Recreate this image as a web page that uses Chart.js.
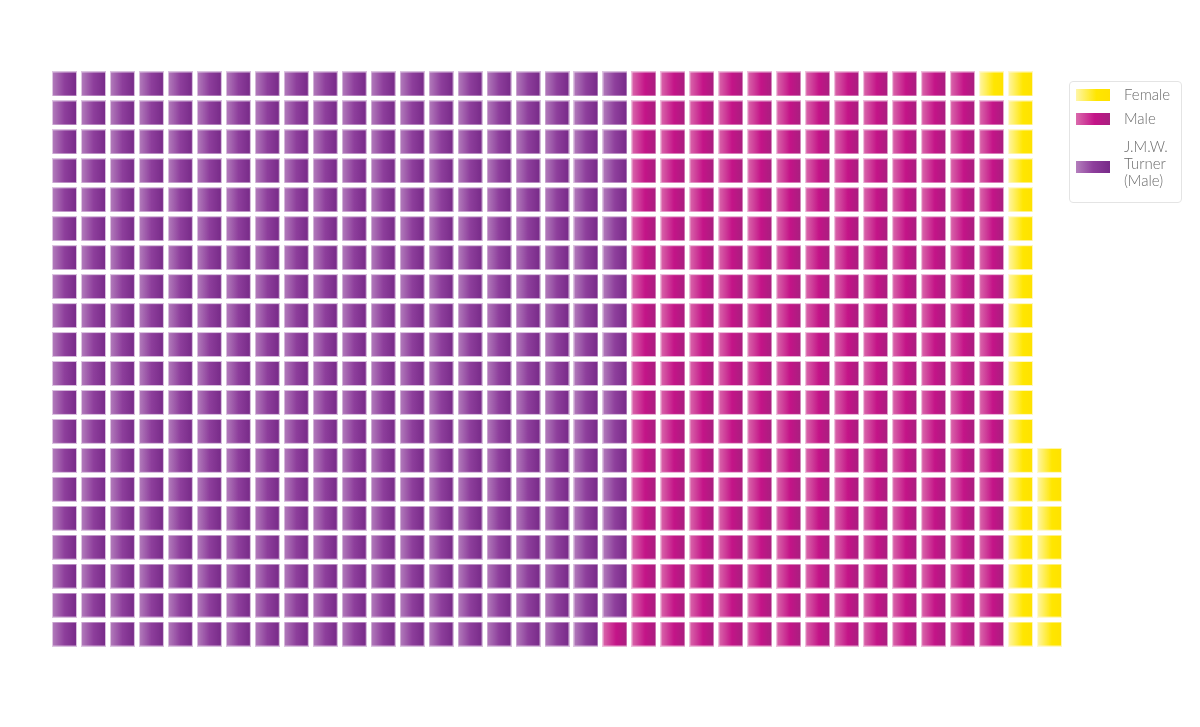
<!DOCTYPE html>
<html>
<head>
<meta charset="utf-8">
<script src="https://cdn.jsdelivr.net/npm/chart.js@4/dist/chart.umd.min.js"></script>
<style>
  html, body { margin: 0; padding: 0; background: #fff; }
  #wrap { position: relative; width: 1200px; height: 727px; }
  #legend {
    position: absolute; left: 1069px; top: 81px; width: 113px; height: 122px;
    border: 1px solid #e4e4e4; border-radius: 4px; box-sizing: border-box;
    font-family: Lato, "Open Sans", sans-serif; font-weight: 300; font-size: 15px; color: #6a6a6a;
  }
  .sw { position: absolute; left: 6px; width: 34px; height: 12px; }
  .lt { position: absolute; left: 54px; line-height: 17px; }
</style>
</head>
<body>
<div id="wrap">
  <canvas id="mycanvas" width="1200" height="727"></canvas>
  <div id="legend"></div>
</div>
<script>
// waffle: 20 cells per column, filled column by column (snake)
var labels = ["J.M.W. Turner (Male)", "Male", "Female"];
var counts = [399, 260, 28];
var rowsPerCol = 20;

var grads = [
	[[0, "#b47fbd"], [0.5, "#8e3f9c"], [1, "#772a88"]],
	[[0, "#da6aac"], [0.55, "#c41488"], [1, "#a8207f"]],
	[[0, "#fff6a8"], [0.6, "#ffe600"], [1, "#ffe100"]]
];
var borders = ["rgba(225,205,230,0.9)", "rgba(240,200,225,0.9)", "rgba(255,250,215,0.9)"];

function makeTile(stops, border) {
	var c = document.createElement("canvas");
	c.width = 25; c.height = 25;
	var g = c.getContext("2d");
	var lg = g.createLinearGradient(0, 0, 25, 0);
	for (var i = 0; i < stops.length; i++) lg.addColorStop(stops[i][0], stops[i][1]);
	g.fillStyle = lg;
	g.fillRect(0, 0, 25, 25);
	g.strokeStyle = border;
	g.lineWidth = 1;
	g.strokeRect(0.5, 0.5, 24, 24);
	return c;
}

var total = 0;
for (var i in counts) total += counts[i];
var lastCol = Math.floor((total - 1) / rowsPerCol);
var datasets = [];
var idx = 0;
for (var s = 0; s < counts.length; s++) {
	var pts = [];
	for (var k = 0; k < counts[s]; k++) {
		var col = Math.floor(idx / rowsPerCol);
		var r = idx % rowsPerCol;
		// even columns go up from the bottom, odd ones go down
		var row = (col % 2 === 0) ? rowsPerCol - 1 - r : r;
		pts.push({x: col, y: row});
		idx++;
	}
	datasets.push({
		label: labels[s],
		data: pts,
		pointStyle: makeTile(grads[s], borders[s]),
		pointHoverRadius: 12
	});
}

var ctx = document.getElementById("mycanvas");
new Chart(ctx, {
	type: 'scatter',
	data: { datasets: datasets },
	options: {
		responsive: false,
		animation: false,
		layout: { padding: { left: 50, right: 136, top: 69.5, bottom: 78.5 } },
		scales: {
			x: { display: false, min: -0.5, max: lastCol + 0.5 },
			y: { display: false, min: -0.5, max: rowsPerCol - 0.5, reverse: true }
		},
		plugins: { legend: { display: false }, tooltip: { enabled: true } }
	}
});

// legend
var leg = document.getElementById("legend");
var order = [2, 1, 0];
var swTop = [7, 31, 79];
var txtTop = [4, 28, 56];
var txt = ["Female", "Male", "J.M.W.<br>Turner<br>(Male)"];
for (var j = 0; j < order.length; j++) {
	var s2 = order[j];
	var st = grads[s2].map(function (p) { return p[1] + " " + (p[0] * 100) + "%"; }).join(", ");
	var sw = document.createElement("div");
	sw.className = "sw";
	sw.style.top = swTop[j] + "px";
	sw.style.background = "linear-gradient(to right, " + st + ")";
	leg.appendChild(sw);
	var t = document.createElement("div");
	t.className = "lt";
	t.style.top = txtTop[j] + "px";
	t.innerHTML = txt[j];
	leg.appendChild(t);
}
</script>
</body>
</html>
